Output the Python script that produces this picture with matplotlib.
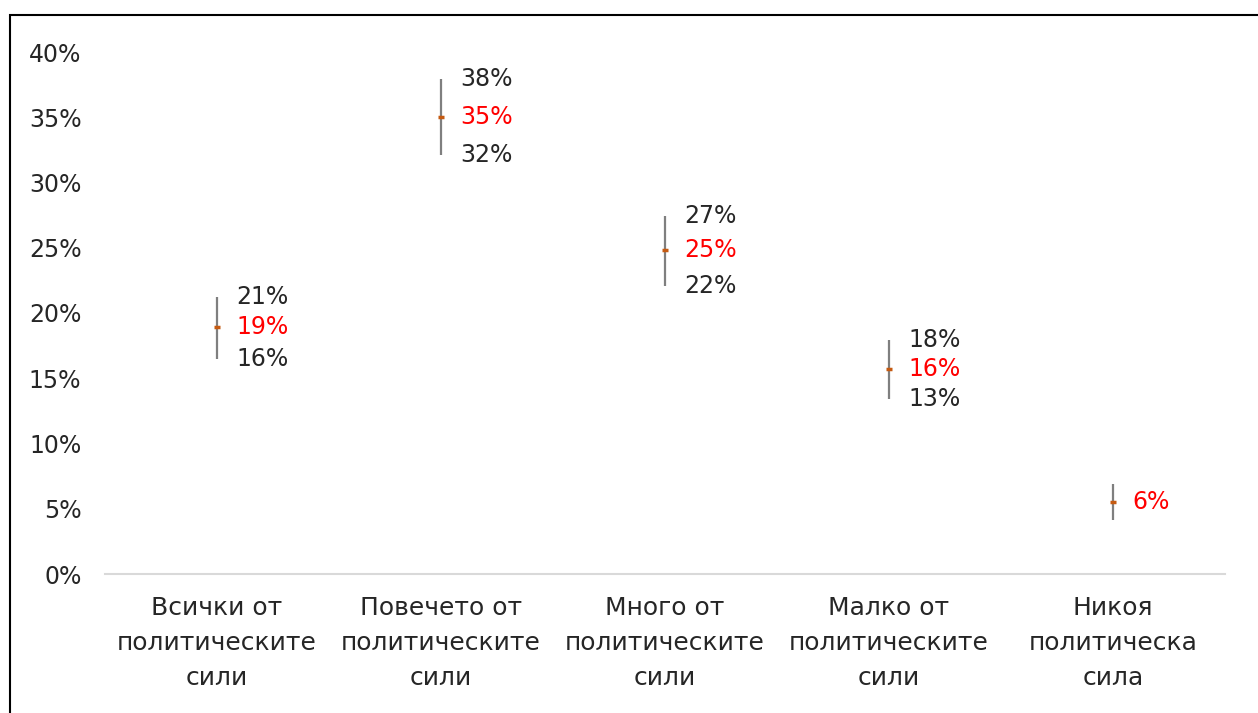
import matplotlib.pyplot as plt
from matplotlib.patches import Rectangle
from matplotlib.ticker import PercentFormatter

plt.rcParams['font.family'] = ['DejaVu Sans']

categories = ['Всички от\nполитическите\nсили',
              'Повечето от\nполитическите\nсили',
              'Много от\nполитическите\nсили',
              'Малко от\nполитическите\nсили',
              'Никоя\nполитическа\nсила']
high = [21.2, 37.9, 27.4, 17.9, 6.9]
mid = [18.9, 35.0, 24.8, 15.7, 5.5]
low = [16.5, 32.1, 22.1, 13.4, 4.1]
high_labels = ['21%', '38%', '27%', '18%', None]
mid_labels = ['19%', '35%', '25%', '16%', '6%']
low_labels = ['16%', '32%', '22%', '13%', None]

fig = plt.figure(figsize=(12.58, 7.13), dpi=100)
ax = fig.add_axes([105 / 1258, 1 - 574 / 713, 1120 / 1258, (574 - 52) / 713])

# outer frame, cut off at right and bottom like the source image
fig.patches.append(Rectangle((10 / 1258, -0.1), 1.2, 1 - 15 / 713 + 0.1,
                             transform=fig.transFigure, fill=False,
                             edgecolor='#000000', linewidth=1.5))

x = range(len(categories))
ax.vlines(x, low, high, color='#7f7f7f', linewidth=1.6, zorder=2)
ax.plot(x, mid, linestyle='none', marker='_', markersize=5,
        markeredgewidth=2.5, color='#C55A11', zorder=3)

for i in x:
    for val, lab, col in ((high[i], high_labels[i], '#262626'),
                          (mid[i], mid_labels[i], '#FF0000'),
                          (low[i], low_labels[i], '#262626')):
        if lab is None:
            continue
        ax.annotate(lab, (i, val), xytext=(14, 0), textcoords='offset points',
                    ha='left', va='center', fontsize=17, color=col)

ax.set_xlim(-0.5, len(categories) - 0.5)
ax.set_ylim(0, 40)
ax.set_yticks(range(0, 41, 5))
ax.yaxis.set_major_formatter(PercentFormatter(decimals=0))
ax.set_xticks(list(x))
ax.set_xticklabels(categories, fontsize=18, color='#262626', linespacing=1.58)

for s in ['top', 'right', 'left']:
    ax.spines[s].set_visible(False)
ax.spines['bottom'].set_color('#d9d9d9')
ax.spines['bottom'].set_linewidth(1.5)
ax.tick_params(axis='y', length=0, labelsize=17, labelcolor='#262626', pad=17)
ax.tick_params(axis='x', length=0, labelcolor='#262626', pad=16)

fig.savefig('out.png', dpi=100)
